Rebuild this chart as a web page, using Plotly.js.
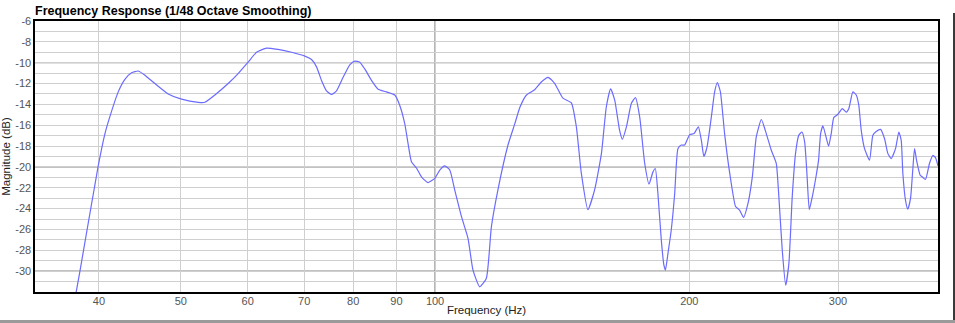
<!DOCTYPE html>
<html>
<head>
<meta charset="utf-8">
<script src="https://cdn.plot.ly/plotly-3.0.1.min.js"></script>
<style>
  html, body { margin: 0; padding: 0; background: #ffffff; overflow: hidden; }
  #chart { width: 955px; height: 323px; position: absolute; left: 0; top: 0; }
  #edgeR { position: absolute; left: 953px; top: 13px; width: 2px; height: 310px; background: #3a3a3a; }
  #edgeB { position: absolute; left: 0; top: 320px; width: 955px; height: 3px; background: #9a9a9a; }
</style>
</head>
<body>
<div id="chart"></div>
<div id="edgeR"></div>
<div id="edgeB"></div>
<script>
const freqHz = [37.4, 37.98, 39.9, 40.66, 41.2, 42.16, 42.93, 43.72, 44.52, 45.33, 46.59, 48.31, 50.1, 52.43, 53.39, 54.87, 56.89, 58.46, 60.07, 61.47, 63.17, 65.19, 67.62, 70.12, 71.41, 72.39, 73.38, 74.38, 75.41, 76.44, 77.83, 79.26, 80.35, 81.45, 82.56, 84.09, 85.62, 87.6, 89.6, 90.83, 92.07, 92.9, 93.77, 95.06, 96.36, 98.11, 99.92, 101.3, 102.7, 104.1, 105.5, 107.5, 109.4, 110.9, 112.95, 115.0, 116.6, 118.7, 122.0, 124.3, 126.0, 128.3, 131.2, 133.6, 136.1, 138.6, 141.7, 145.0, 147.0, 149.0, 151.7, 154.5, 157.4, 159.5, 161.4, 163.2, 165.4, 166.6, 168.5, 170.8, 172.7, 174.7, 177.1, 179.2, 181.1, 182.3, 183.6, 185.3, 186.6, 187.4, 188.7, 190.4, 192.2, 193.9, 195.7, 197.5, 200.2, 202.6, 205.0, 206.7, 208.1, 209.9, 212.4, 214.3, 215.9, 217.7, 220.2, 223.3, 226.9, 229.4, 231.9, 234.7, 237.5, 240.1, 243.4, 246.7, 250.1, 253.5, 255.3, 257.7, 260.1, 262.4, 264.8, 267.2, 269.6, 271.9, 273.9, 275.6, 277.4, 279.7, 282.7, 284.5, 286.1, 287.9, 290.0, 292.4, 294.5, 296.6, 299.9, 303.5, 306.8, 309.0, 312.4, 315.3, 317.5, 319.6, 322.5, 326.9, 329.9, 332.9, 336.9, 340.6, 343.6, 346.8, 350.9, 354.1, 356.4, 358.0, 360.6, 362.9, 365.6, 367.9, 369.6, 371.9, 375.3, 377.4, 380.8, 385.0, 388.5, 391.3, 394.0];
const magDb = [-33.0, -30.0, -20.0, -16.8, -15.2, -12.8, -11.6, -10.96, -10.8, -11.2, -12.0, -13.0, -13.5, -13.8, -13.8, -13.1, -12.0, -11.05, -9.95, -9.0, -8.6, -8.73, -9.0, -9.37, -9.7, -10.4, -11.7, -12.7, -13.05, -12.7, -11.4, -10.2, -9.85, -9.95, -10.6, -11.7, -12.55, -12.8, -13.1, -14.1, -15.85, -17.75, -19.5, -20.1, -20.95, -21.5, -21.1, -20.3, -19.9, -20.3, -22.2, -24.8, -26.85, -29.9, -31.5, -30.7, -25.75, -22.2, -17.9, -15.85, -14.3, -13.1, -12.6, -11.85, -11.4, -12.0, -13.4, -13.85, -16.15, -20.6, -24.1, -22.2, -18.7, -14.25, -12.5, -13.6, -16.5, -17.35, -16.15, -13.9, -13.35, -15.2, -19.65, -21.65, -20.5, -20.15, -22.55, -27.0, -29.4, -29.9, -28.3, -26.05, -22.55, -18.25, -17.9, -17.9, -16.9, -16.8, -16.15, -17.45, -19.0, -18.1, -15.2, -12.8, -11.9, -12.8, -16.8, -20.6, -23.8, -24.15, -24.85, -23.5, -20.95, -17.1, -15.45, -16.8, -18.4, -19.65, -22.85, -28.0, -31.35, -29.25, -22.85, -18.7, -16.95, -16.65, -17.6, -20.6, -24.1, -22.85, -20.8, -19.35, -16.8, -16.05, -16.95, -18.0, -16.8, -15.25, -14.95, -14.4, -14.75, -14.4, -12.8, -13.1, -14.1, -16.5, -18.25, -19.35, -16.95, -16.6, -16.4, -17.3, -18.7, -19.2, -18.25, -16.65, -17.45, -20.6, -23.2, -24.05, -23.0, -20.15, -18.25, -19.5, -20.8, -20.95, -21.2, -19.65, -18.9, -19.1, -19.9];

const xTickVals = [40, 50, 60, 70, 80, 90, 100, 200, 300];
const xTickText = ["40", "50", "60", "70", "80", "90", "100", "200", "300"];
const yTickVals = [-30, -28, -26, -24, -22, -20, -18, -16, -14, -12, -10, -8, -6];
const yTickText = ["-30", "-28", "-26", "-24", "-22", "-20", "-18", "-16", "-14", "-12", "-10", "-8", "-6"];
const majorDb = [-10, -20, -30];
const majorHz = [100];
const xRangeHz = [33.6, 394.0];
const yRangeDb = [-32, -6];

const titleText = "Frequency Response (1/48 Octave Smoothing)";
const xTitle = "Frequency (Hz)";
const yTitle = "Magnitude (dB)";

const FONT = "Liberation Sans, Arial, Helvetica, sans-serif";
const lightGrid = "#cfcfcf";
const darkGrid = "#858585";

const shapes = [];
majorDb.forEach(v => shapes.push({type: "line", layer: "below", xref: "paper", yref: "y", x0: 0, x1: 1, y0: v, y1: v, line: {color: darkGrid, width: 1.3}}));
majorHz.forEach(v => shapes.push({type: "line", layer: "below", xref: "x", yref: "paper", x0: v, x1: v, y0: 0, y1: 1, line: {color: darkGrid, width: 1.3}}));

const trace = {
  x: freqHz, y: magDb, type: "scatter", mode: "lines",
  line: {color: "#6b6bff", width: 1.2, shape: "spline", smoothing: 0.5},
  hoverinfo: "skip"
};

const layout = {
  width: 955, height: 323,
  margin: {l: 35, r: 16.5, t: 21, b: 30.7, pad: 0},
  paper_bgcolor: "#ffffff", plot_bgcolor: "#ffffff",
  showlegend: false,
  font: {family: FONT, size: 11, color: "#555555"},
  title: {
    text: "<b>" + titleText + "</b>",
    font: {family: FONT, size: 12.5, color: "#000000"},
    xref: "paper", x: 0, xanchor: "left",
    yref: "container", y: 1, yanchor: "top", pad: {t: 6}
  },
  xaxis: {
    type: "log",
    range: [Math.log10(xRangeHz[0]), Math.log10(xRangeHz[1])],
    tickmode: "array", tickvals: xTickVals, ticktext: xTickText,
    showgrid: true, gridcolor: lightGrid, gridwidth: 1,
    ticks: "", ticklen: 0, ticklabelstandoff: -2,
    tickfont: {family: FONT, size: 11, color: "#555555"},
    showline: true, linecolor: "#000000", linewidth: 1.6, mirror: true,
    zeroline: false,
    title: {text: xTitle, font: {family: FONT, size: 11.5, color: "#222222"}, standoff: 0}
  },
  yaxis: {
    range: yRangeDb,
    tickmode: "array", tickvals: yTickVals, ticktext: yTickText,
    showgrid: true, gridcolor: lightGrid, gridwidth: 1,
    minor: {dtick: 1, showgrid: true, gridcolor: lightGrid, gridwidth: 1, ticks: ""},
    ticks: "", ticklen: 0,
    tickfont: {family: FONT, size: 11, color: "#555555"},
    showline: true, linecolor: "#000000", linewidth: 1.6, mirror: true,
    zeroline: false,
    title: {text: yTitle, font: {family: FONT, size: 11.5, color: "#222222"}, standoff: 2}
  },
  shapes: shapes
};

Plotly.newPlot("chart", [trace], layout, {displayModeBar: false, staticPlot: true});
</script>
</body>
</html>
